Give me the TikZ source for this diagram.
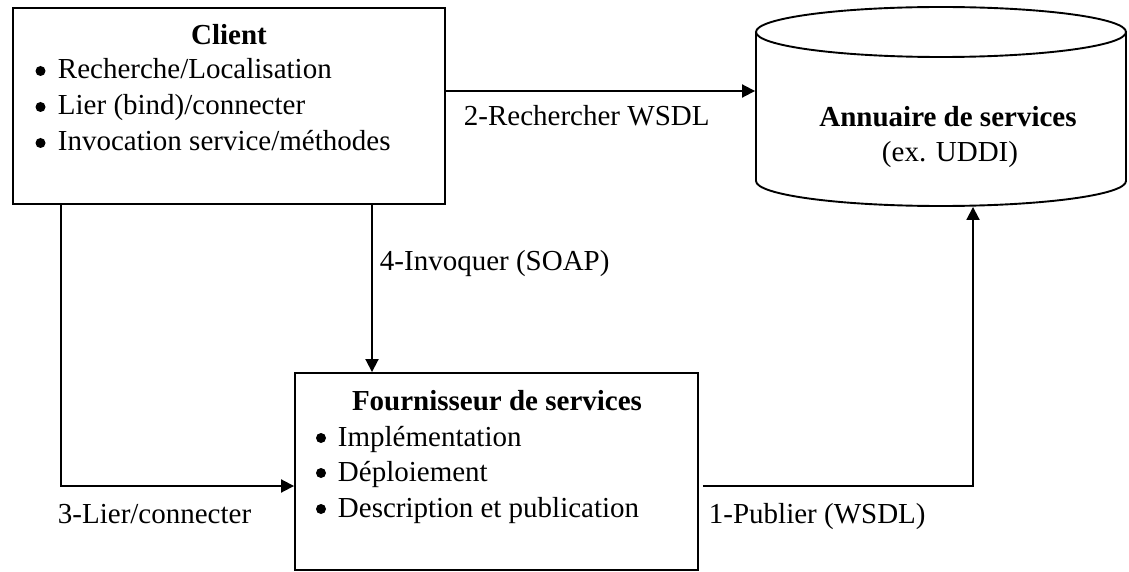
\documentclass[tikz,border=0pt]{standalone}
\usepackage{fontspec}
\setmainfont{Liberation Serif}
\usetikzlibrary{arrows.meta}
\begin{document}
\begin{tikzpicture}[x=1pt,y=-1pt,
  font=\fontsize{29}{33}\selectfont,
  line width=1.9pt,
  box/.style={draw, rectangle, inner sep=0pt},
  zone/.style={rectangle, inner sep=0pt},
  txt/.style={inner sep=0pt, anchor=base west},
  ctxt/.style={inner sep=0pt, anchor=base},
  arr/.style={-{Triangle[length=13pt,width=13pt]}},
  dot/.style={fill=black, draw=none}]
\useasboundingbox (0,0) rectangle (1129,572);

% Client box
\node[box, minimum width=432pt, minimum height=196pt] (client) at (229,106) {};
\node[ctxt] (ctitle) at (229,45) {\bfseries Client};
\node[txt] (c1) at (57,79) {Recherche/Localisation};
\node[txt] (c2) at (57,115) {Lier (bind)/connecter};
\node[txt] (c3) at (57,151) {Invocation service/méthodes};
\foreach \y in {79,115,151} \fill[dot] (40.5,\y-8) circle[radius=5];

% Provider box
\node[box, minimum width=403pt, minimum height=197pt] (prov) at (496.5,471.5) {};
\node[ctxt] (ptitle) at (497,410) {\bfseries Fournisseur de services};
\node[txt] (p1) at (337,446) {Implémentation};
\node[txt] (p2) at (337,481) {Déploiement};
\node[txt] (p3) at (337,517) {Description et publication};
\foreach \y in {446,481,517} \fill[dot] (321,\y-8) circle[radius=5];

% Registry cylinder
\node[zone, minimum width=370pt, minimum height=199pt] (dir) at (941,106.5) {};
\draw (756,32) -- (756,181) arc[start angle=180, end angle=0, x radius=185, y radius=25] -- (1126,32);
\draw (941,32) ellipse[x radius=185, y radius=25];
\node[ctxt] (dtitle) at (948,127) {\bfseries Annuaire de services};
\node[ctxt] (dsub) at (950,162) {(ex. UDDI)};

% Connectors
\draw[arr] ([yshift=15pt]client.east) -- ([yshift=15pt]client.east -| dir.west);
\node[txt] (l2) at (463,126) {2-Rechercher WSDL};

\draw[arr] ([xshift=143pt]client.south) -- ([xshift=143pt]client.south |- prov.north);
\node[txt] (l4) at (379,270) {4-Invoquer (SOAP)};

\draw[arr] ([xshift=-168pt]client.south) |- ([yshift=-14.5pt]prov.west);
\node[txt] (l3) at (57,523) {3-Lier/connecter};

\draw[arr] ([xshift=4pt,yshift=-14.5pt]prov.east) -| ([xshift=32pt]dir.south);
\node[txt] (l1) at (708,523) {1-Publier (WSDL)};
\end{tikzpicture}
\end{document}
